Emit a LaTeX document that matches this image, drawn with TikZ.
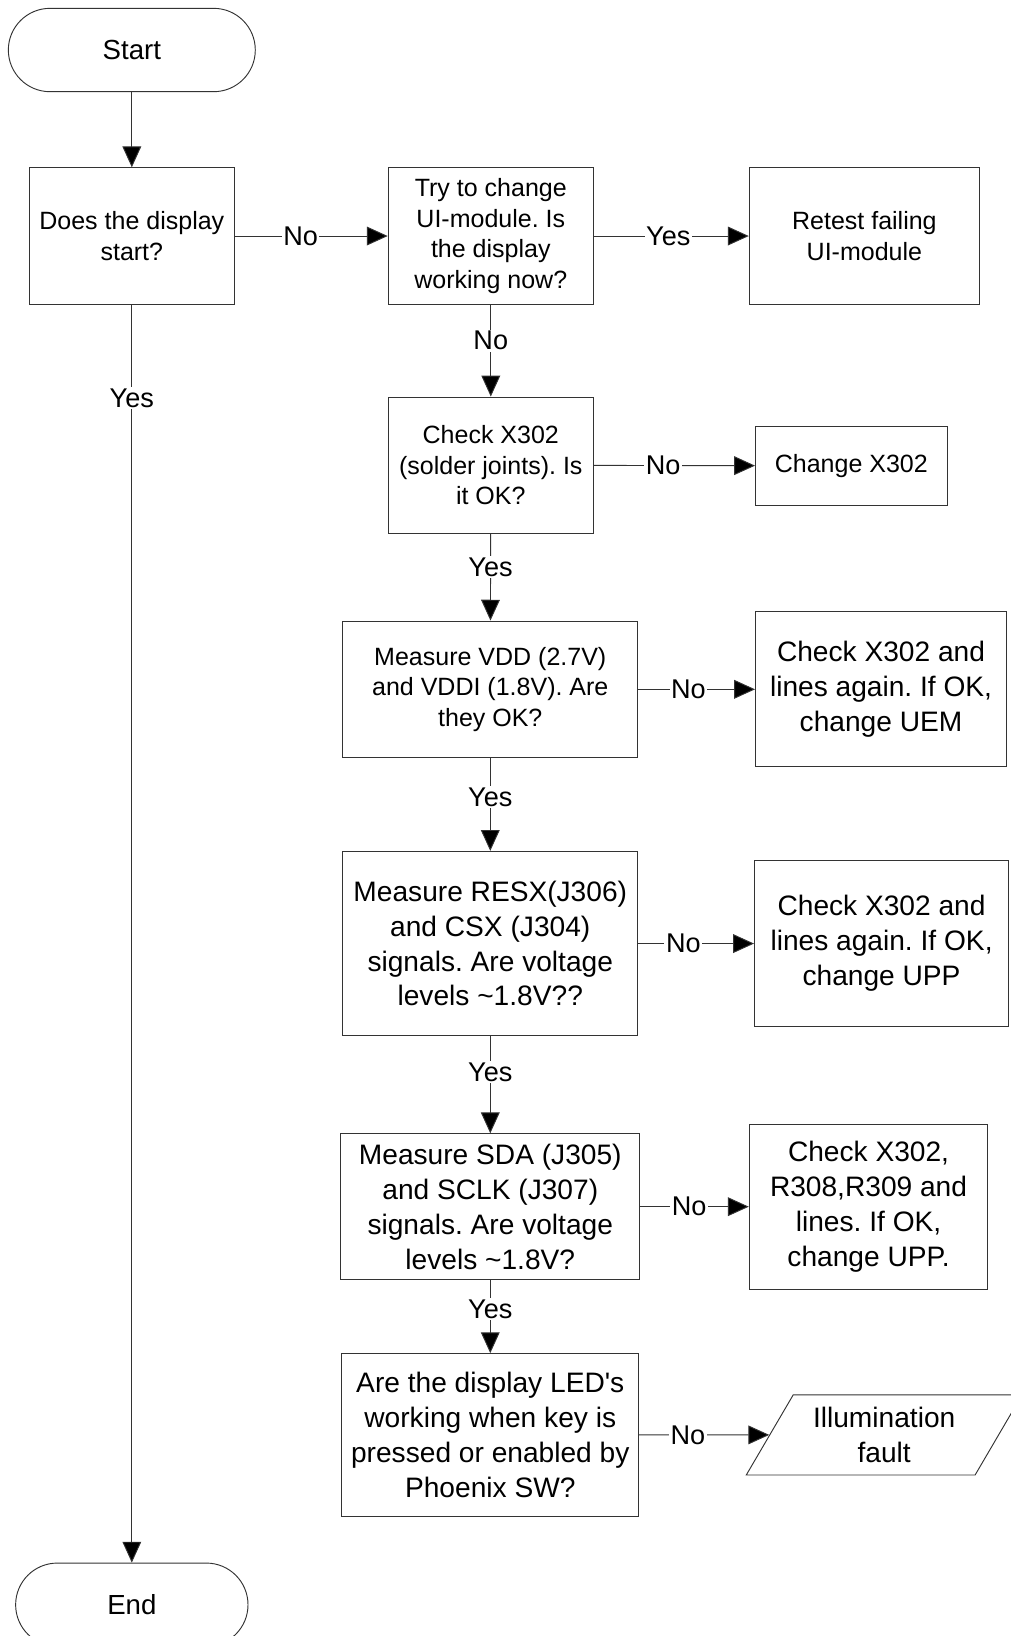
\documentclass[tikz,border=0pt]{standalone}
\usepackage{fontspec}
\setmainfont{Liberation Sans}
\usetikzlibrary{arrows.meta,shapes.geometric}
\frenchspacing
\begin{document}
\frenchspacing
\begin{tikzpicture}[x=1pt,y=-1pt,
  box/.style={draw=black!80, line width=0.9pt, align=center, inner sep=0pt},
  fs/.style={font=\fontsize{24}{29.5}\selectfont},
  fl/.style={font=\fontsize{27}{33.5}\selectfont},
  ft/.style={font=\fontsize{26.5}{30}\selectfont},
  term/.style={box, rounded corners=40pt, minimum height=80pt},
  conn/.style={draw=black!80, line width=0.9pt, -{Triangle[length=20pt,width=18pt,fill=black]}},
  lab/.style={fill=white, inner sep=1.5pt, font=\fontsize{26}{30}\selectfont}]
\useasboundingbox (0,0) rectangle (970,1570);
\clip (0,0) rectangle (970,1570);

% nodes
\node[term, ft, minimum width=237pt] (start) at (126.5,48) {Start};
\node[box, fs, minimum width=197pt, minimum height=131pt] (does) at (126.5,226.5) {Does the display\\start?};
\node[box, fs, minimum width=197pt, minimum height=131pt] (try) at (471,226.5) {Try to change\\UI-module. Is\\the display\\working now?};
\node[box, fs, minimum width=221pt, minimum height=131pt] (retest) at (829.5,226.5) {Retest failing\\UI-module};
\node[box, fs, minimum width=197pt, minimum height=131pt] (chk) at (471,446.5) {Check X302\\(solder joints). Is\\it OK?};
\node[box, fs, minimum width=184pt, minimum height=76pt] (chg) at (817,447) {Change X302};
\node[box, fs, minimum width=283pt, minimum height=131pt] (vdd) at (470.5,661.5) {Measure VDD (2.7V)\\and VDDI (1.8V). Are\\they OK?};
\node[box, fl, minimum width=241pt, minimum height=149pt] (uem) at (845.5,661.5) {Check X302 and\\lines again. If OK,\\change UEM};
\node[box, fl, minimum width=283pt, minimum height=177pt] (resx) at (470.5,905.5) {Measure RESX(J306)\\and CSX (J304)\\signals. Are voltage\\levels \textasciitilde1.8V??};
\node[box, fl, minimum width=244pt, minimum height=159pt] (upp) at (846,905.5) {Check X302 and\\lines again. If OK,\\change UPP};
\node[box, fl, minimum width=287pt, minimum height=140pt] (sda) at (470.5,1158) {Measure SDA (J305)\\and SCLK (J307)\\signals. Are voltage\\levels \textasciitilde1.8V?};
\node[box, fl, minimum width=229pt, minimum height=158pt] (r308) at (833.5,1158) {Check X302,\\R308,R309 and\\lines. If OK,\\change UPP.};
\node[box, fl, minimum width=285pt, minimum height=156pt] (led) at (470.5,1377) {Are the display LED\textquotesingle s\\working when key is\\pressed or enabled by\\Phoenix SW?};
\node[box, fl, trapezium, trapezium left angle=56.5, trapezium right angle=123.5,
      trapezium stretches=true, minimum width=265pt, minimum height=77pt] (ill) at (848.5,1377) {Illumination\\fault};
\node[term, ft, minimum width=223pt] (end) at (126.5,1540) {End};

% connectors
\draw[conn] (start) -- (does);
\draw[conn] (does) -- node[lab, pos=0.43] {No} (try);
\draw[conn] (try) -- node[lab, pos=0.48] {Yes} (retest);
\draw[conn] (try) -- node[lab, pos=0.39] {No} (chk);
\draw[conn] (chk) -- node[lab, pos=0.43] {No} (chg);
\draw[conn] (chk) -- node[lab, pos=0.38] {Yes} (vdd);
\draw[conn] (vdd) -- node[lab, pos=0.43] {No} (uem);
\draw[conn] (vdd) -- node[lab, pos=0.42] {Yes} (resx);
\draw[conn] (resx) -- node[lab, pos=0.39] {No} (upp);
\draw[conn] (resx) -- node[lab, pos=0.37] {Yes} (sda);
\draw[conn] (sda) -- node[lab, pos=0.45] {No} (r308);
\draw[conn] (sda) -- node[lab, pos=0.40] {Yes} (led);
\draw[conn] (led) -- node[lab, pos=0.375] {No} (ill);
\draw[conn] (does) -- node[lab, pos=0.074] {Yes} (end);
\end{tikzpicture}
\end{document}
